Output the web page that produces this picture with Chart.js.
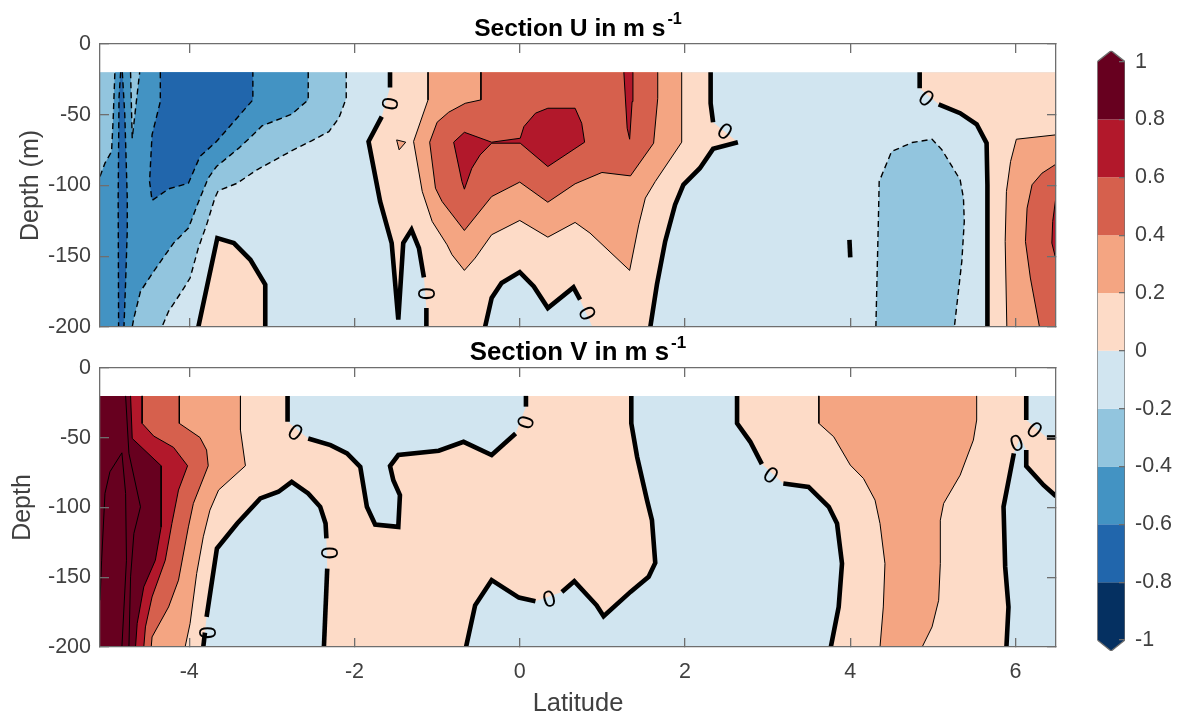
<!DOCTYPE html>
<html>
<head>
<meta charset="utf-8">
<style>
  html, body { margin: 0; padding: 0; background: #fff; }
  canvas { position: absolute; }
</style>
<script src="https://cdn.jsdelivr.net/npm/chart.js@4/dist/chart.umd.min.js"></script>
</head>
<body>
<canvas id="panelU" width="1080" height="345" style="left:0;top:0"></canvas>
<canvas id="panelV" width="1080" height="388" style="left:0;top:330px"></canvas>
<canvas id="colorbar" width="93" height="718" style="left:1085px;top:0"></canvas>
<script>
// axis ticks
const latTicks = [-4, -2, 0, 2, 4, 6];
const depthTicks = [-200, -150, -100, -50, 0];
const colorTicks = [-1, -0.8, -0.6, -0.4, -0.2, 0, 0.2, 0.4, 0.6, 0.8, 1];
const latMin = -5.08, latMax = 6.49, dataTop = -20, dataBottom = -200;

// one colour per band, -1 to 1
const bandColors = ['#053061', '#2166ac', '#4393c3', '#92c5de', '#d1e5f0', '#fddbc7', '#f4a582', '#d6604d', '#b2182b', '#67001f'];
const [cN08, cN06, cN04, cN02, cN00, cP00, cP02, cP04, cP06, cP08] = bandColors;

// ---- Section U contours, [latitude, depth] ----
const uNeg02 = [[-2.10,-20],[-2.10,-38.4],[-2.19,-52.5],[-2.31,-61.9],[-2.52,-68.5],[-2.74,-74.8],[-2.96,-81.9],[-3.18,-88.9],[-3.42,-98.4],[-3.65,-103.8],[-3.69,-108.9],[-3.79,-127.8],[-3.89,-144.2],[-3.99,-165.4],[-4.09,-174.8],[-4.25,-188.9],[-4.33,-200]];
const uNeg04 = [[-2.56,-20],[-2.56,-39.5],[-2.76,-49.6],[-3.12,-57.9],[-3.20,-62.6],[-3.40,-73.6],[-3.67,-86.6],[-3.77,-94.8],[-3.87,-108.9],[-4.01,-130.1],[-4.19,-140.7],[-4.43,-160.7],[-4.59,-174.8],[-4.67,-193.7],[-4.69,-200]];
const uNeg04West = [[-5.08,-93.6],[-5.02,-84.2],[-4.94,-76],[-4.92,-52.5],[-4.90,-20]];
const uNeg04Wedge = [[-4.71,-20],[-4.69,-66.6],[-4.60,-20]];
const uNeg06StripW = [[-4.83,-20],[-4.85,-38],[-4.86,-109],[-4.855,-200]];
const uNeg06StripE = [[-4.81,-20],[-4.78,-50],[-4.75,-109],[-4.75,-132],[-4.77,-168],[-4.79,-200]];
const uNeg06 = [[-4.35,-20],[-4.35,-40.7],[-4.45,-64.2],[-4.48,-97.2],[-4.45,-110.6],[-4.25,-102.4],[-4.01,-98.4],[-3.87,-79.5],[-3.67,-68.9],[-3.23,-39.5],[-3.23,-20]];
const uNeg02East = [[4.31,-200],[4.34,-125.4],[4.35,-97.2],[4.50,-76],[4.75,-69.6],[4.99,-67.3],[5.11,-74.8],[5.33,-96],[5.37,-108.9],[5.38,-125.4],[5.35,-153.7],[5.26,-200]];

const uZeroBlob = [[-3.89,-200],[-3.66,-137.2],[-3.46,-140.7],[-3.26,-152.5],[-3.08,-170.1],[-3.08,-200]];
const uZeroDot = [[3.99,-138.4],[4.00,-150.8]];
const uZeroWestA = [[-1.57,-20],[-1.57,-30.8]];
const uZeroWestB = [[-1.67,-51.3],[-1.83,-68.9],[-1.69,-111.3],[-1.55,-140.7],[-1.47,-194.8],[-1.41,-140.7],[-1.31,-131.3],[-1.22,-144.2],[-1.16,-164.9]];
const uZeroWestC = [[-1.13,-186.6],[-1.13,-200]];
const uZeroBump = [[-0.42,-200],[-0.34,-179.5],[-0.22,-168.9],[0,-161.2],[0.17,-171.3],[0.34,-186.6],[0.65,-172],[0.73,-180.7]];
const uZeroMidA = [[1.58,-200],[1.66,-170.1],[1.76,-139.5],[1.88,-113.6],[1.98,-99.5],[2.18,-87.8],[2.34,-74.1],[2.64,-69.4]];
const uZeroMidB = [[2.34,-55.3],[2.31,-41.9],[2.31,-20]];
const uZeroEastA = [[4.84,-20],[4.84,-31.3]];
const uZeroEastB = [[5.07,-42.6],[5.33,-48.9],[5.53,-56.7],[5.65,-70.1],[5.66,-99.5],[5.66,-200]];

const uPos02 = [[-1.11,-20],[-1.11,-39.5],[-1.285,-68.9],[-1.18,-104.2],[-1.06,-125.4],[-0.88,-141.9],[-0.82,-148.9],[-0.67,-160],[-0.54,-151.3],[-0.34,-134.8],[0,-124.7],[0.34,-136.5],[0.67,-126.1],[0.85,-133.6],[1.33,-160],[1.44,-127.8],[1.52,-108.9],[1.64,-97.2],[1.96,-69.4],[1.96,-20]];
const uPos04 = [[-0.47,-20],[-0.47,-39.5],[-0.66,-41.9],[-0.86,-48.2],[-1.0,-55.3],[-1.09,-69.4],[-1.02,-101.9],[-0.94,-111.3],[-0.67,-131.8],[-0.34,-107.8],[0,-97.6],[0.34,-111.8],[0.67,-98.8],[0.995,-90.8],[1.34,-93.2],[1.62,-70.1],[1.67,-38.4],[1.67,-20]];
const uPos06Core = [[-0.80,-69.4],[-0.67,-62.4],[-0.34,-69.4],[0.006,-66.6],[0.05,-58.4],[0.19,-48.9],[0.34,-45.4],[0.67,-45.4],[0.75,-56],[0.785,-69.4],[0.34,-86.6],[0.006,-70.1],[-0.34,-70.1],[-0.48,-78.4],[-0.58,-87.8],[-0.67,-102.6],[-0.70,-97.2],[-0.80,-69.4]];
const uPos06Sliver = [[1.26,-20],[1.30,-59.5],[1.33,-67.3],[1.36,-40.7],[1.37,-20]];
const uPos02Speck = [[-1.49,-67.8],[-1.38,-69.4],[-1.46,-74.8],[-1.49,-67.8]];
const uPos02East = [[6.49,-64.2],[6.01,-67.3],[5.94,-83.1],[5.89,-104.2],[5.875,-139.5],[5.895,-200]];
const uPos04East = [[6.49,-84.9],[6.32,-91.3],[6.20,-99.5],[6.14,-116],[6.12,-139.5],[6.18,-165.4],[6.29,-200]];
const uPos06East = [[6.49,-107.8],[6.45,-125.4],[6.44,-140.7],[6.49,-152.5]];

// contour labels: latitude, depth, rotation of the text in degrees
const uLabels = [[-1.59,-41.9,100],[-1.16,-176.5,90],[0.80,-190.8,65],[2.475,-62.6,35],[4.91,-39.1,40]];

// ---- Section V contours ----
const vPos02West = [[-3.38,-20],[-3.38,-44.5],[-3.32,-70.1],[-3.645,-87.5],[-3.75,-101.9],[-3.83,-121],[-3.91,-147.3],[-3.99,-183.2],[-4.05,-200]];
const vPos04West = [[-4.12,-20],[-4.12,-39.7],[-3.87,-49.8],[-3.79,-58.8],[-3.77,-70.1],[-3.95,-97.1],[-4.01,-113.9],[-4.13,-152.1],[-4.25,-171.3],[-4.45,-192.8],[-4.46,-200]];
const vPos06West = [[-4.57,-20],[-4.57,-39.7],[-4.43,-48.8],[-4.19,-56.9],[-4.02,-70.1],[-4.13,-87.5],[-4.21,-111.5],[-4.29,-137.8],[-4.45,-164.1],[-4.53,-185.6],[-4.55,-200]];
const vPos08West = [[-4.71,-20],[-4.69,-50.5],[-4.34,-70.1],[-4.34,-113.9],[-4.41,-137.8],[-4.55,-156.9],[-4.63,-183.2],[-4.65,-200]];
const vPosInnerA = [[-4.77,-20],[-4.73,-61.2],[-4.59,-99.5],[-4.67,-118.6],[-4.71,-149.7],[-4.73,-200]];
const vPosInnerB = [[-5.08,-166.5],[-5.06,-137.8],[-5.02,-89.9],[-4.96,-74.4],[-4.815,-60.8],[-4.77,-89.9],[-4.76,-137.8],[-4.815,-200]];
const vPos02East = [[3.62,-20],[3.62,-39.7],[3.80,-49.3],[4.0,-69.6],[4.16,-79.2],[4.30,-94.7],[4.36,-111.5],[4.42,-140.2],[4.40,-171.3],[4.36,-200],[4.87,-200],[4.99,-185.6],[5.07,-166.5],[5.09,-140.2],[5.09,-109.1],[5.13,-97.1],[5.33,-76.8],[5.49,-51.7],[5.53,-37.3],[5.53,-20]];

const vZeroTopA = [[-2.81,-20],[-2.81,-38.5]];
const vZeroTopB = [[-2.56,-50.5],[-2.29,-55.3],[-2.09,-61.2],[-1.93,-70.8],[-1.85,-99.5],[-1.75,-112.2],[-1.47,-113.9],[-1.45,-91.1],[-1.53,-80.4],[-1.57,-70.3],[-1.47,-62.4],[-0.98,-59.3],[-0.68,-52.9],[-0.34,-62.4],[-0.05,-46.9]];
const vZeroTopC = [[0.075,-27.7],[0.075,-20]];
const vZeroArchA = [[-3.83,-200],[-3.81,-189.7]];
const vZeroArchB = [[-3.79,-178.4],[-3.665,-129.4],[-3.42,-111.5],[-3.14,-93.5],[-2.92,-88.7],[-2.76,-81.6],[-2.56,-89.9],[-2.415,-99.5],[-2.35,-111.5],[-2.34,-122.2]];
const vZeroArchC = [[-2.33,-143.8],[-2.37,-200]];
const vZeroMainA = [[-0.65,-200],[-0.54,-170.1],[-0.34,-152.1],[-0.01,-164.6],[0.19,-167.2]];
const vZeroMainB = [[0.51,-160.5],[0.66,-152.9],[0.93,-170.1],[1.015,-178],[1.34,-160.5],[1.56,-149.7],[1.64,-139.7],[1.60,-109.1],[1.54,-94.7],[1.42,-63.6],[1.35,-39.7],[1.35,-20]];
const vZeroMainC = [[2.63,-20],[2.63,-39.7],[2.79,-52.9],[2.93,-68.9]];
const vZeroMainD = [[3.19,-82.8],[3.495,-85.2],[3.74,-99.5],[3.84,-111.5],[3.90,-140.2],[3.86,-171.3],[3.765,-200]];
const vZeroNeA = [[6.13,-20],[6.13,-37.3]];
const vZeroNeB = [[6.38,-49.8],[6.49,-49.8]];
const vZeroSeA = [[6.49,-91.9],[6.34,-84],[6.13,-70.3],[6.13,-58.8]];
const vZeroSeB = [[5.98,-61.2],[5.855,-99.5],[5.875,-142.6],[5.915,-171.3],[5.89,-200]];

const vLabels = [[-2.725,-46.9,35],[-3.81,-189.7,90],[-2.33,-132.5,90],[0.05,-38.5,105],[0.36,-166.5,-15],[3.03,-77.5,35],[6.22,-45.2,40],[6.02,-54.8,-20]];

// ---- helpers ----
const axisGrey = '#6e6e6e';
const textGrey = '#404040';
const fontFamily = '"Liberation Sans", Arial, sans-serif';
const pts = list => list.map(p => ({ x: p[0], y: p[1] }));
const rev = list => list.slice().reverse();

const patch = (list, color) => ({ data: pts(list), showLine: true, fill: 'shape', backgroundColor: color, borderWidth: 0, pointRadius: 0, tension: 0 });
const line = (list, width, dash) => ({ data: pts(list), showLine: true, fill: false, borderColor: '#000', borderWidth: width, borderDash: dash || [], pointRadius: 0, tension: 0, borderCapStyle: 'butt' });
const thin = list => line(list, 1);
const dashed = list => line(list, 1.4, [6, 4]);
const zero = list => line(list, 4.6);

const fullBox = [[latMin, dataTop], [latMax, dataTop], [latMax, dataBottom], [latMin, dataBottom]];

const uDatasets = [
  patch(fullBox, cN00),
  patch([[latMin, dataTop], ...uNeg02, [latMin, dataBottom]], cN02),
  patch([...uNeg04, [latMin, dataBottom], ...uNeg04West], cN04),
  patch(uNeg04Wedge, cN02),
  patch([...uNeg06StripW, ...rev(uNeg06StripE)], cN06),
  patch(uNeg06, cN06),
  patch(uNeg02East, cN02),
  patch(uZeroBlob, cP00),
  patch([...uZeroWestA, ...uZeroWestB, ...uZeroWestC, ...uZeroBump, [0.88, -200], ...uZeroMidA, ...uZeroMidB], cP00),
  patch([...uZeroEastA, ...uZeroEastB, [latMax, dataBottom], [latMax, dataTop]], cP00),
  patch(uPos02, cP02),
  patch(uPos04, cP04),
  patch(uPos06Core, cP06),
  patch(uPos06Sliver, cP06),
  patch(uPos02Speck, cP02),
  patch([...uPos02East, [latMax, dataBottom]], cP02),
  patch([...uPos04East, [latMax, dataBottom]], cP04),
  patch(uPos06East, cP06),
  ...[uNeg02, uNeg04, uNeg04West, uNeg04Wedge, uNeg06StripW, uNeg06StripE, uNeg06, uNeg02East].map(dashed),
  ...[uPos02, uPos04, uPos06Core, uPos06Sliver, uPos02Speck, uPos02East, uPos04East, uPos06East].map(thin),
  ...[uZeroBlob, uZeroDot, uZeroWestA, uZeroWestB, uZeroWestC, uZeroBump, uZeroMidA, uZeroMidB, uZeroEastA, uZeroEastB].map(zero)
];

const vDatasets = [
  patch(fullBox, cP00),
  patch([...vZeroTopA, ...vZeroTopB, ...vZeroTopC], cN00),
  patch([...vZeroArchA, ...vZeroArchB, ...vZeroArchC], cN00),
  patch([...vZeroMainA, ...vZeroMainB, ...vZeroMainC, ...vZeroMainD], cN00),
  patch([...vZeroNeA, ...vZeroNeB, [latMax, dataTop]], cN00),
  patch([...vZeroSeA, [6.06, -49.8], ...vZeroSeB, [latMax, dataBottom]], cN00),
  patch(vPos02East, cP02),
  patch([[latMin, dataTop], ...vPos02West, [latMin, dataBottom]], cP02),
  patch([[latMin, dataTop], ...vPos04West, [latMin, dataBottom]], cP04),
  patch([[latMin, dataTop], ...vPos06West, [latMin, dataBottom]], cP06),
  patch([[latMin, dataTop], ...vPos08West, [latMin, dataBottom]], cP08),
  ...[vPos02West, vPos04West, vPos06West, vPos08West, vPosInnerA, vPosInnerB, vPos02East].map(thin),
  ...[vZeroTopA, vZeroTopB, vZeroTopC, vZeroArchA, vZeroArchB, vZeroArchC, vZeroMainA, vZeroMainB, vZeroMainC, vZeroMainD, vZeroNeA, vZeroNeB, vZeroSeA, vZeroSeB].map(zero)
];

// draws the bold title with its superscript and the rotated contour labels
const panelText = {
  id: 'panelText',
  afterDraw(chart, args, opts) {
    const { ctx, scales, chartArea } = chart;
    ctx.save();
    ctx.fillStyle = '#000';
    ctx.font = '23px ' + fontFamily;
    ctx.textAlign = 'center';
    ctx.textBaseline = 'middle';
    opts.labels.forEach(([lat, depth, angle]) => {
      ctx.save();
      ctx.translate(scales.x.getPixelForValue(lat), scales.y.getPixelForValue(depth));
      ctx.rotate(angle * Math.PI / 180);
      ctx.fillText('0', 0, 0);
      ctx.restore();
    });
    const main = opts.title, sup = '-1';
    ctx.font = 'bold ' + opts.titleSize + 'px ' + fontFamily;
    const mainW = ctx.measureText(main).width;
    ctx.font = 'bold ' + opts.supSize + 'px ' + fontFamily;
    const supW = ctx.measureText(sup).width + 2;
    const startX = (chartArea.left + chartArea.right) / 2 - (mainW + supW) / 2;
    ctx.textAlign = 'left';
    ctx.textBaseline = 'alphabetic';
    ctx.font = 'bold ' + opts.titleSize + 'px ' + fontFamily;
    ctx.fillText(main, startX, opts.titleY);
    ctx.font = 'bold ' + opts.supSize + 'px ' + fontFamily;
    ctx.fillText(sup, startX + mainW + 2, opts.titleY - 12);
    ctx.restore();
  }
};

function tickedAxis(position, min, max, values, size, showLabels, title) {
  const vertical = position === 'left' || position === 'right';
  return {
    type: 'linear', position, min, max, bounds: 'data', display: true,
    afterBuildTicks: scale => { scale.ticks = values.map(v => ({ value: v })); },
    afterFit: scale => {
      // fixed box, and no extra room for labels that stick out past the plot
      if (vertical) scale.width = size; else scale.height = size;
      scale.paddingTop = scale.paddingBottom = scale.paddingLeft = scale.paddingRight = 0;
    },
    grid: { drawOnChartArea: false, drawTicks: true, tickLength: -9, color: axisGrey, lineWidth: 1.3, z: 1 },
    border: { color: axisGrey, width: 1.3, z: 1 },
    ticks: { display: showLabels, color: textGrey, font: { family: fontFamily, size: 21.5 }, padding: vertical ? 18 : 21, maxRotation: 0, autoSkip: false, callback: v => String(v) },
    title: title || { display: false }
  };
}

function panel(id, datasets, labels, cfg) {
  return new Chart(document.getElementById(id), {
    type: 'scatter',
    data: { datasets: datasets.slice().reverse() },
    plugins: [panelText],
    options: {
      responsive: false, animation: false, devicePixelRatio: 1,
      layout: { padding: 0 },
      plugins: {
        legend: { display: false }, tooltip: { enabled: false }, title: { display: false },
        panelText: { labels, title: cfg.title, titleY: cfg.titleY, titleSize: cfg.titleSize, supSize: cfg.titleSize * 0.66 }
      },
      scales: {
        x: tickedAxis('bottom', latMin, latMax, latTicks, cfg.bottom, cfg.xLabels, cfg.xTitle),
        y: tickedAxis('left', dataBottom, 0, depthTicks, 100, true, cfg.yTitle),
        xTop: tickedAxis('top', latMin, latMax, latTicks, cfg.top, false),
        yRight: tickedAxis('right', dataBottom, 0, depthTicks, 24, false)
      }
    }
  });
}

panel('panelU', uDatasets, uLabels, {
  title: 'Section U in m s', titleY: 36, titleSize: 24.6, top: 44, bottom: 18, xLabels: false,
  yTitle: { display: true, text: 'Depth (m)', color: textGrey, font: { family: fontFamily, size: 25 }, padding: { top: 16, bottom: 0 } }
});

panel('panelV', vDatasets, vLabels, {
  title: 'Section V in m s', titleY: 30, titleSize: 25.8, top: 38, bottom: 71, xLabels: true,
  xTitle: { display: true, text: 'Latitude', color: textGrey, font: { family: fontFamily, size: 25.5 }, padding: { top: 0, bottom: -1 } },
  yTitle: { display: true, text: 'Depth', color: textGrey, font: { family: fontFamily, size: 25 }, padding: { top: 8, bottom: 0 } }
});

// ---- colorbar ----
const barEdge = 1.038;
const barDatasets = bandColors.map((color, i) => {
  const lo = colorTicks[i], hi = colorTicks[i + 1];
  if (i === 0) return patch([[0, hi], [1, hi], [1, lo], [0.5, -barEdge], [0, lo]], color);
  if (i === bandColors.length - 1) return patch([[0, lo], [1, lo], [1, hi], [0.5, barEdge], [0, hi]], color);
  return patch([[0, lo], [1, lo], [1, hi], [0, hi]], color);
});
const barOutline = [[0, -1], [0.5, -barEdge], [1, -1], [1, 1], [0.5, barEdge], [0, 1], [0, -1]];
const outline = line(barOutline, 1.3);
outline.borderColor = axisGrey;

new Chart(document.getElementById('colorbar'), {
  type: 'scatter',
  data: { datasets: [outline, ...barDatasets.reverse()] },
  options: {
    responsive: false, animation: false, devicePixelRatio: 1,
    layout: { padding: { left: 12.3, top: 50.7, bottom: 67 } },
    plugins: { legend: { display: false }, tooltip: { enabled: false } },
    scales: {
      x: { type: 'linear', min: 0, max: 1, display: false },
      y: {
        type: 'linear', position: 'right', min: -barEdge, max: barEdge, bounds: 'data',
        afterBuildTicks: scale => { scale.ticks = colorTicks.map(v => ({ value: v })); },
        afterFit: scale => { scale.width = 53; },
        grid: { drawOnChartArea: false, tickLength: -6, color: axisGrey, lineWidth: 1.3, z: 1 },
        border: { display: false },
        ticks: { color: textGrey, font: { family: fontFamily, size: 21.5 }, padding: 16, autoSkip: false, maxRotation: 0, callback: v => String(v) }
      }
    }
  }
});
</script>
</body>
</html>
